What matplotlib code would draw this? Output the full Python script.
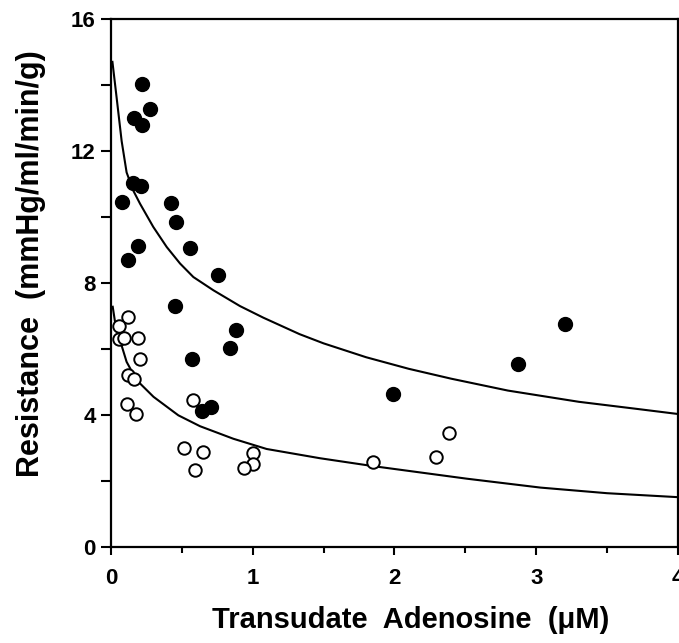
import numpy as np
import matplotlib
matplotlib.use("Agg")
import matplotlib.pyplot as plt
from matplotlib.ticker import MultipleLocator

plt.rcParams['font.family'] = ['Liberation Sans', 'DejaVu Sans']

# filled circles (upper group)
filled_x = [0.216, 0.275, 0.165, 0.221, 0.157, 0.212, 0.078, 0.423, 0.456, 0.188,
            0.56, 0.12, 0.757, 0.454, 0.88, 0.84, 0.574, 0.703, 0.644, 1.99,
            2.874, 3.203]
filled_y = [14.03, 13.28, 13.01, 12.78, 11.04, 10.93, 10.44, 10.42, 9.85, 9.12,
            9.07, 8.69, 8.23, 7.30, 6.59, 6.02, 5.69, 4.24, 4.12, 4.64,
            5.53, 6.77]

# open circles (lower group)
open_x = [0.122, 0.056, 0.059, 0.094, 0.188, 0.202, 0.12, 0.162, 0.11, 0.179,
          0.576, 0.513, 0.647, 0.595, 1.002, 1.004, 0.938, 2.385, 2.29, 1.846]
open_y = [6.97, 6.69, 6.29, 6.34, 6.34, 5.71, 5.20, 5.08, 4.33, 4.03,
          4.46, 3.01, 2.88, 2.33, 2.86, 2.53, 2.38, 3.45, 2.73, 2.57]

# fitted curves
upper_x = [0.01, 0.04, 0.075, 0.11, 0.157, 0.205, 0.298, 0.393, 0.487, 0.581,
           0.722, 0.91, 1.074, 1.33, 1.5, 1.8, 2.1, 2.4, 2.8, 3.3, 3.7, 4.0]
upper_y = [14.7, 13.6, 12.3, 11.35, 10.8, 10.4, 9.7, 9.09, 8.59, 8.18,
           7.78, 7.3, 6.95, 6.45, 6.17, 5.75, 5.4, 5.1, 4.74, 4.4, 4.19, 4.03]
lower_x = [0.012, 0.028, 0.063, 0.11, 0.18, 0.3, 0.475, 0.628, 0.863, 1.098,
           1.474, 1.85, 2.51, 3.03, 3.5, 4.0]
lower_y = [7.28, 6.83, 6.27, 5.61, 5.06, 4.55, 3.99, 3.66, 3.28, 2.97,
           2.69, 2.45, 2.07, 1.8, 1.63, 1.51]

fig = plt.figure(figsize=(6.79, 6.43), dpi=100)
ax = fig.add_axes([0.1635, 0.1493, 0.835, 0.8212])

ax.plot(upper_x, upper_y, color='black', lw=1.5)
ax.plot(lower_x, lower_y, color='black', lw=1.5)
ax.plot(filled_x, filled_y, 'o', color='black', ms=10, zorder=3)
ax.plot(open_x, open_y, 'o', mfc='white', mec='black', mew=1.4, ms=9, zorder=3)

ax.set_xlim(0, 4)
ax.set_ylim(0, 16)
ax.xaxis.set_major_locator(MultipleLocator(1))
ax.xaxis.set_minor_locator(MultipleLocator(0.5))
ax.yaxis.set_major_locator(MultipleLocator(4))
ax.yaxis.set_minor_locator(MultipleLocator(2))
ax.tick_params(axis='x', which='major', direction='out', length=6, width=1.5,
               labelsize=16, pad=9)
ax.tick_params(axis='x', which='minor', direction='out', length=4, width=1.5)
ax.tick_params(axis='y', which='both', direction='out', length=7, width=1.5,
               labelsize=16, pad=4)
for lab in ax.get_xticklabels() + ax.get_yticklabels():
    lab.set_fontweight('bold')
for s in ax.spines.values():
    s.set_linewidth(1.6)

fig.text(0.605, 0.035, 'Transudate  Adenosine  (\u03bcM)', ha='center', va='center',
         fontsize=21, fontweight='bold')
fig.text(0.045, 0.59, 'Resistance  (mmHg/ml/min/g)', ha='center', va='center',
         rotation=90, fontsize=22, fontweight='bold')

fig.savefig('out.png', dpi=100)
